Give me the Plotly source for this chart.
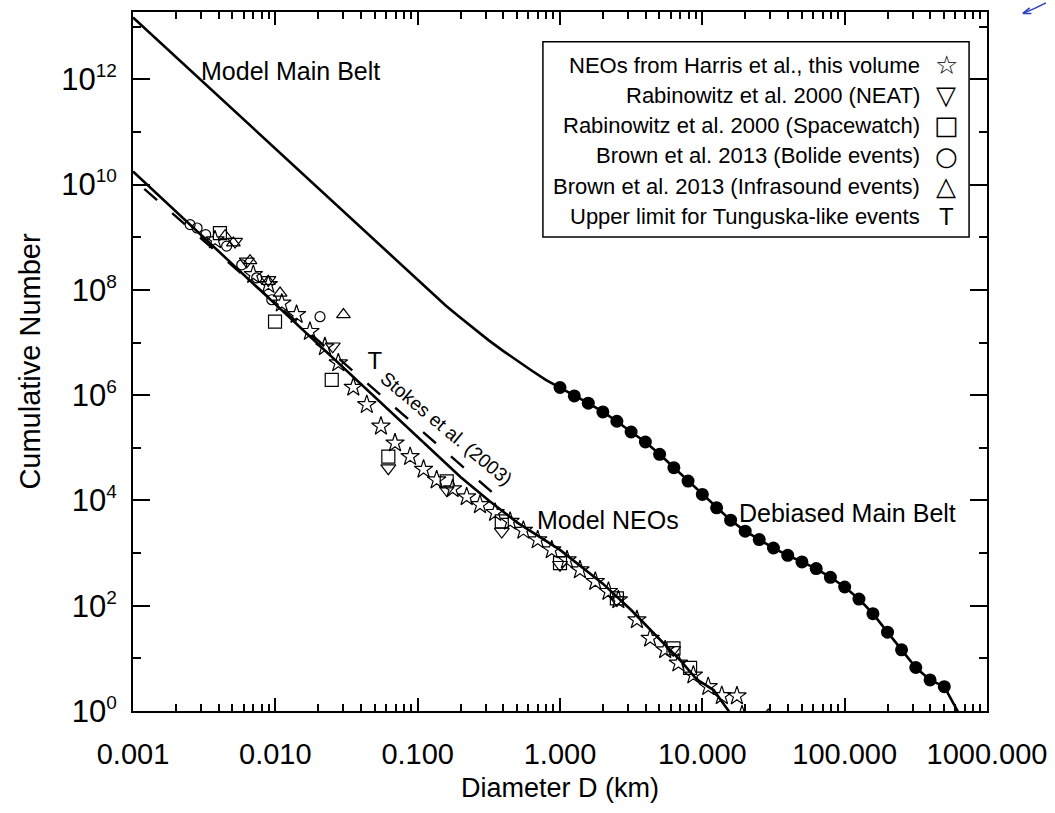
import plotly.graph_objects as go

# ---------------- data ----------------
# Model Main Belt (small-D part of the model curve)
mb_model_D = [0.001, 0.00316, 0.01, 0.0316, 0.1, 0.126, 0.158, 0.2, 0.251, 0.316,
              0.398, 0.501, 0.631, 0.794]
mb_model_N = [1.5e13, 8.5e11, 4.8e10, 2.7e9, 1.51e8, 8.6e7, 4.99e7, 2.95e7, 1.79e7,
              1.10e7, 6.95e6, 4.47e6, 2.94e6, 1.95e6]
mb_tail_D = [650.0]
mb_tail_N = [0.8]

# Debiased Main Belt (filled dots)
debiased_D = [1.0, 1.26, 1.58, 2.0, 2.51, 3.16, 3.98, 5.01, 6.31, 7.94, 10.0, 12.6,
              15.8, 20.0, 25.1, 31.6, 39.8, 50.1, 63.1, 79.4, 100.0, 126.0, 158.0,
              200.0, 251.0, 316.0, 398.0, 501.0]
debiased_N = [1.40e6, 9.7e5, 7.05e5, 4.81e5, 3.20e5, 2.00e5, 1.29e5, 7.52e4, 4.19e4,
              2.33e4, 1.30e4, 7.24e3, 4.22e3, 2.61e3, 1.81e3, 1.25e3, 908, 679, 507,
              347, 227, 134, 70.5, 31.5, 14.5, 6.7, 3.9, 2.9]

# Model NEOs
neo_model_D = [0.001, 0.00316, 0.01, 0.0316, 0.1, 0.2, 0.316, 0.501, 1.0, 2.0, 3.16,
               5.01, 7.08, 9.12, 12.0, 15.8]
neo_model_N = [1.78e10, 9.8e8, 5.25e7, 2.88e6, 1.58e5, 2.8e4, 1.0e4, 3.8e3, 1.15e3,
               263, 83, 22.9, 8.9, 4.0, 2.5, 0.89]

# Stokes et al. (2003)
stokes_D = [0.0012, 0.42]
stokes_N = [8.3e9, 8.3e3]

# NEOs from Harris et al.
harris_D = [0.00377, 0.0070, 0.00893, 0.0111, 0.0141, 0.0175, 0.0223, 0.0277, 0.0353,
            0.0439, 0.0552, 0.0693, 0.0885, 0.110, 0.136, 0.176, 0.221, 0.274, 0.350,
            0.446, 0.553, 0.697, 0.875, 1.12, 1.38, 1.77, 2.19, 2.57, 3.47, 4.30, 5.48,
            6.79, 8.65, 11.0, 13.7, 17.5, 19.0]
harris_N = [8.9e8, 1.95e8, 1.26e8, 5.6e7, 3.4e7, 1.62e7, 8.3e6, 4.1e6, 1.41e6, 6.6e5,
            2.57e5, 1.23e5, 6.8e4, 3.9e4, 2.45e4, 1.66e4, 1.17e4, 8.3e3, 5.9e3, 4.0e3,
            2.7e3, 1.78e3, 1.15e3, 741, 479, 288, 186, 129, 54, 24, 14.5, 8.1, 4.8,
            2.9, 1.95, 1.93, 0.84]

# Rabinowitz et al. 2000 (NEAT)
neat_D = [0.00521, 0.00630, 0.00893, 0.0253, 0.0622, 0.160, 0.390, 1.0, 2.51, 6.24]
neat_N = [8.3e8, 3.5e8, 1.55e8, 8.5e6, 4.1e4, 1.58e4, 2.57e3, 600, 129, 14.5]

# Rabinowitz et al. 2000 (Spacewatch)
sw_D = [0.00408, 0.00995, 0.0249, 0.0622, 0.160, 0.390, 1.0, 2.51, 6.27, 8.2]
sw_N = [1.2e9, 2.5e7, 1.95e6, 6.8e4, 2.3e4, 4.0e3, 646, 138, 15.5, 6.6]

# Brown et al. 2013 (Bolide events)
bol_D = [0.00252, 0.00282, 0.00324, 0.00455, 0.00581, 0.00740, 0.00944, 0.0206]
bol_N = [1.74e9, 1.5e9, 1.12e9, 6.8e8, 3.0e8, 1.7e8, 6.5e7, 3.1e7]

# Brown et al. 2013 (Infrasound events)
inf_D = [0.00444, 0.00507, 0.00664, 0.00893, 0.0108, 0.0301, 29.0]
inf_N = [1.07e9, 7.8e8, 3.6e8, 1.45e8, 8.7e7, 3.4e7, 0.84]

# Upper limit for Tunguska-like events
tung_D = [0.050]
tung_N = [4.1e6]

x_tick_vals = [0.001, 0.01, 0.1, 1, 10, 100, 1000]
x_tick_text = ["0.001", "0.010", "0.100", "1.000", "10.000", "100.000", "1000.000"]
y_tick_exps = [0, 2, 4, 6, 8, 10, 12]

legend_labels = ["NEOs from Harris et al., this volume",
                 "Rabinowitz et al. 2000 (NEAT)",
                 "Rabinowitz et al. 2000 (Spacewatch)",
                 "Brown et al. 2013 (Bolide events)",
                 "Brown et al. 2013 (Infrasound events)",
                 "Upper limit for Tunguska-like events"]
legend_glyphs = ["\u2606", "\u25BD", "\u25A1", "\u25CB", "\u25B3", "T"]

FONT = "Liberation Sans, Arial, Helvetica, sans-serif"
BLACK = "black"

fig = go.Figure()

# Model main belt curve (continues through the debiased points)
fig.add_trace(go.Scatter(x=mb_model_D + debiased_D + mb_tail_D,
                         y=mb_model_N + debiased_N + mb_tail_N,
                         mode="lines", line=dict(color=BLACK, width=2.6),
                         name="Model Main Belt", showlegend=False))
fig.add_trace(go.Scatter(x=debiased_D, y=debiased_N, mode="markers",
                         marker=dict(symbol="circle", size=13, color=BLACK),
                         name="Debiased Main Belt", showlegend=False))
fig.add_trace(go.Scatter(x=neo_model_D, y=neo_model_N, mode="lines",
                         line=dict(color=BLACK, width=2.6),
                         name="Model NEOs", showlegend=False))
fig.add_trace(go.Scatter(x=stokes_D, y=stokes_N, mode="lines",
                         line=dict(color=BLACK, width=2.4, dash="17px,20px"),
                         name="Stokes et al. (2003)", showlegend=False))

mk_line = dict(color=BLACK, width=1.2)
fig.add_trace(go.Scatter(x=harris_D, y=harris_N, mode="markers",
                         marker=dict(symbol="star-open", size=14, color=BLACK, line=mk_line),
                         name=legend_labels[0], showlegend=False))
fig.add_trace(go.Scatter(x=neat_D, y=neat_N, mode="markers",
                         marker=dict(symbol="triangle-down-open", size=13, color=BLACK, line=mk_line),
                         name=legend_labels[1], showlegend=False))
fig.add_trace(go.Scatter(x=sw_D, y=sw_N, mode="markers",
                         marker=dict(symbol="square-open", size=13, color=BLACK, line=mk_line),
                         name=legend_labels[2], showlegend=False))
fig.add_trace(go.Scatter(x=bol_D, y=bol_N, mode="markers",
                         marker=dict(symbol="circle-open", size=10, color=BLACK, line=mk_line),
                         name=legend_labels[3], showlegend=False))
fig.add_trace(go.Scatter(x=inf_D, y=inf_N, mode="markers",
                         marker=dict(symbol="triangle-up-open", size=12, color=BLACK, line=mk_line),
                         name=legend_labels[4], showlegend=False))
fig.add_trace(go.Scatter(x=tung_D, y=tung_N, mode="text", text=["T"],
                         textfont=dict(family=FONT, size=24, color=BLACK),
                         name=legend_labels[5], showlegend=False))

# ---------------- curve labels ----------------
lab_font = dict(family=FONT, size=25, color=BLACK)
fig.add_annotation(x=-1.89, y=12.15, xref="x", yref="y", text="Model Main Belt",
                   showarrow=False, font=lab_font)
fig.add_annotation(x=0.338, y=3.63, xref="x", yref="y", text="Model NEOs",
                   showarrow=False, font=lab_font)
fig.add_annotation(x=2.018, y=3.76, xref="x", yref="y", text="Debiased Main Belt",
                   showarrow=False, font=lab_font)
fig.add_annotation(x=-0.80, y=5.365, xref="x", yref="y", text="Stokes et al. (2003)",
                   showarrow=False, textangle=40, font=dict(family=FONT, size=19, color=BLACK))

# ---------------- legend box (text left, symbol right) ----------------
fig.add_shape(type="rect", xref="paper", yref="paper", x0=0.480, x1=0.979,
              y0=0.678, y1=0.9575, line=dict(color=BLACK, width=1.5),
              fillcolor="white", layer="above")
row_y = [0.924, 0.881, 0.838, 0.794, 0.751, 0.708]
for lab, gly, yy in zip(legend_labels, legend_glyphs, row_y):
    fig.add_annotation(x=0.9235, y=yy, xref="paper", yref="paper", text=lab,
                       showarrow=False, xanchor="right", yanchor="middle",
                       font=dict(family=FONT, size=22, color=BLACK))
    fig.add_annotation(x=0.952, y=yy, xref="paper", yref="paper", text=gly,
                       showarrow=False, xanchor="center", yanchor="middle",
                       font=dict(family="DejaVu Sans" if gly != "T" else FONT,
                                 size=26 if gly != "T" else 24, color=BLACK))

# pen mark in the top-right corner of the scan
fig.add_shape(type="path", xref="paper", yref="paper",
              path="M 1.069,1.013 Q 1.055,1.004 1.042,0.998",
              line=dict(color="#2a3fbf", width=1.5))
fig.add_shape(type="path", xref="paper", yref="paper",
              path="M 1.042,0.998 L 1.050,1.006 M 1.042,0.998 L 1.052,0.998",
              line=dict(color="#2a3fbf", width=1.5))

# ---------------- axes ----------------
x_minor = [m * 10.0 ** e for e in range(-3, 3) for m in range(2, 10)]
y_minor = [10.0 ** e for e in range(1, 14, 2)]

fig.update_xaxes(type="log", range=[-3, 3], tickmode="array",
                 tickvals=x_tick_vals, ticktext=x_tick_text,
                 ticks="inside", ticklen=13, tickwidth=2, tickcolor=BLACK,
                 showline=True, linewidth=2, linecolor=BLACK, mirror="ticks",
                 showgrid=False, zeroline=False, ticklabelstandoff=16,
                 tickfont=dict(family=FONT, size=29, color=BLACK),
                 minor=dict(tickmode="array", tickvals=x_minor, ticks="inside",
                            ticklen=7, tickwidth=2, tickcolor=BLACK, showgrid=False),
                 title=dict(text="Diameter D (km)", standoff=9,
                            font=dict(family=FONT, size=27, color=BLACK)))
fig.update_yaxes(type="log", range=[0, 13.28], tickmode="array",
                 tickvals=[10.0 ** e for e in y_tick_exps],
                 ticktext=["10<sup><span style='font-size:19px'>%d</span></sup>" % e
                           for e in y_tick_exps],
                 ticks="inside", ticklen=17, tickwidth=2, tickcolor=BLACK,
                 showline=True, linewidth=2, linecolor=BLACK, mirror="ticks",
                 showgrid=False, zeroline=False, ticklabelstandoff=8,
                 tickfont=dict(family=FONT, size=31, color=BLACK),
                 minor=dict(tickmode="array", tickvals=y_minor, ticks="inside",
                            ticklen=8, tickwidth=2, tickcolor=BLACK, showgrid=False),
                 title=dict(text="Cumulative Number", standoff=12,
                            font=dict(family=FONT, size=29, color=BLACK)))

fig.update_layout(width=1055, height=813, autosize=False,
                  margin=dict(l=133, r=68, t=12, b=102, autoexpand=False),
                  paper_bgcolor="white", plot_bgcolor="white",
                  font=dict(family=FONT, color=BLACK), showlegend=False)

fig.write_html("out.html")
